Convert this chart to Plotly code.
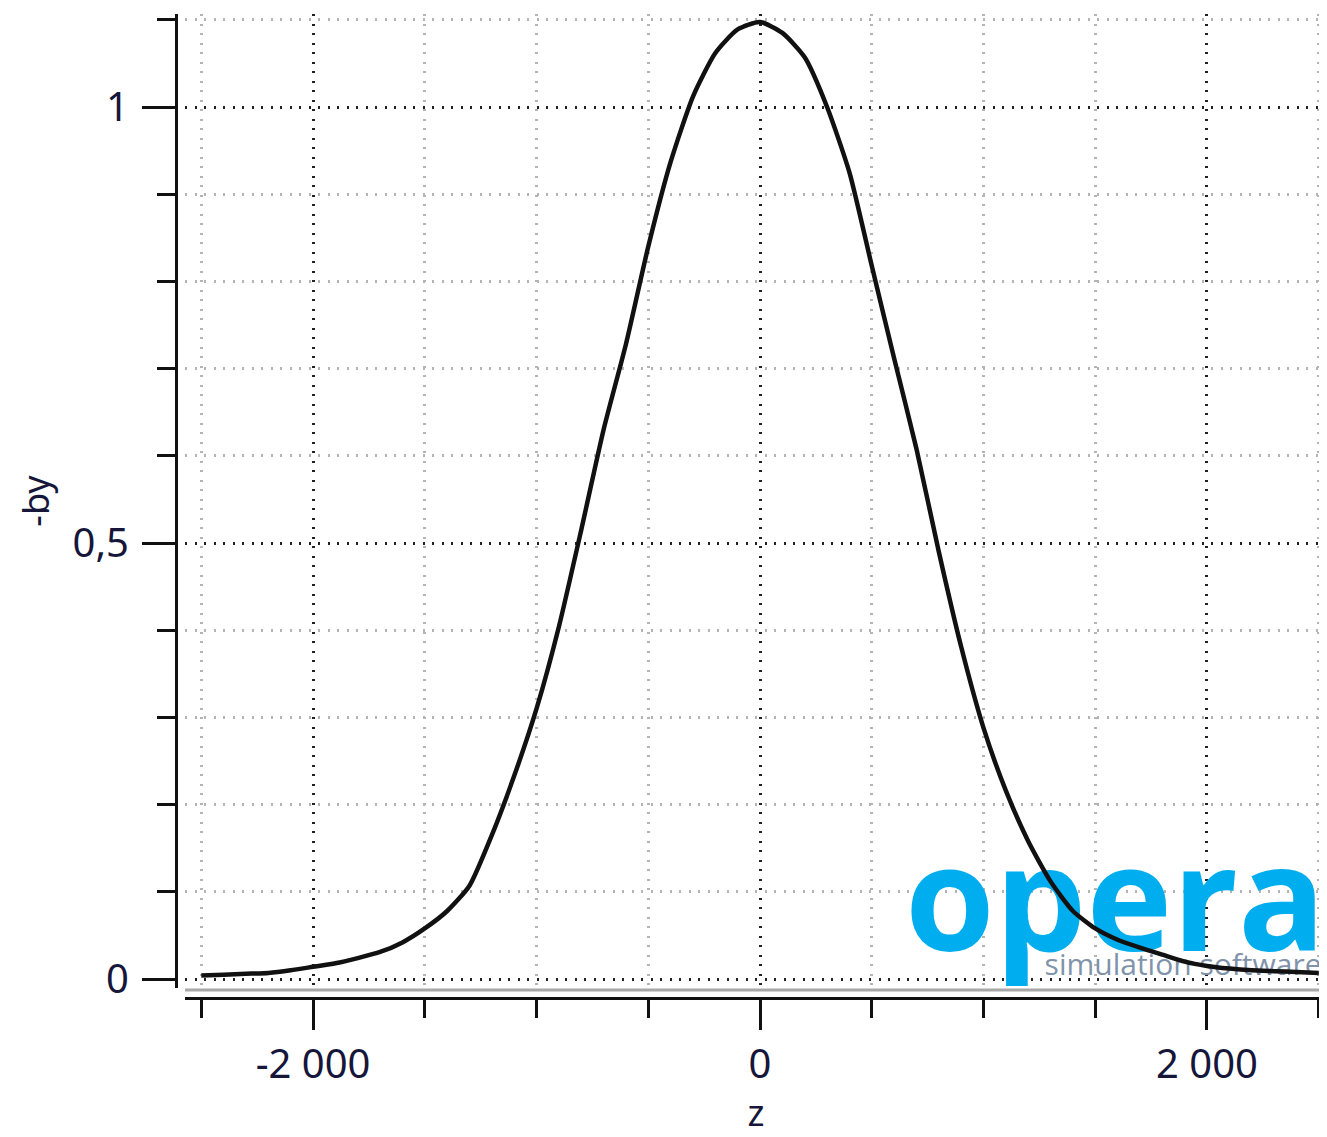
import plotly.graph_objects as go

# Data
z_vals = [-2500, -2400, -2300, -2200, -2100, -2000, -1900, -1800, -1700, -1600,
          -1500, -1400, -1300, -1200, -1100, -1000, -900, -800, -700, -600,
          -500, -400, -300, -200, -100, 0, 100, 200, 300, 400,
          500, 600, 700, 800, 900, 1000, 1100, 1200, 1300, 1400,
          1500, 1600, 1700, 1800, 1900, 2000, 2100, 2200, 2300, 2400, 2500]
by_vals = [0.004, 0.005, 0.006, 0.007, 0.010, 0.014, 0.018, 0.024, 0.031, 0.042,
           0.058, 0.078, 0.107, 0.165, 0.233, 0.310, 0.404, 0.515, 0.630, 0.728,
           0.840, 0.937, 1.012, 1.062, 1.089, 1.0975, 1.085, 1.057, 1.000, 0.925,
           0.818, 0.712, 0.608, 0.490, 0.381, 0.288, 0.216, 0.158, 0.112, 0.078,
           0.058, 0.045, 0.036, 0.028, 0.020, 0.015, 0.012, 0.010, 0.009, 0.008, 0.007]

x_tickvals = [-2000, 0, 2000]
x_ticktext = ["-2 000", "0", "2 000"]
y_tickvals = [0, 0.5, 1]
y_ticktext = ["0", "0,5", "1"]

LOGO_TEXT = "opera"
LOGO_SUB = "simulation software"
LOGO_X = [1590]
LOGO_Y = [0.074]
SUB_X = [1893]
SUB_Y = [0.013]

FONT = "Noto Sans"
LABEL_COLOR = "#16163a"

fig = go.Figure()

# Watermark logo (drawn below the curve, above the grid)
fig.add_trace(go.Scatter(
    x=LOGO_X, y=LOGO_Y, mode="text", text=["<b>" + LOGO_TEXT + "</b>"],
    textposition="middle center", cliponaxis=False, hoverinfo="skip",
    textfont=dict(family="Open Sans", size=145, color="#00aeef"), showlegend=False))
fig.add_trace(go.Scatter(
    x=SUB_X, y=SUB_Y, mode="text", text=[LOGO_SUB],
    textposition="middle center", cliponaxis=False, hoverinfo="skip",
    textfont=dict(family="Open Sans", size=30, color="#7f93aa"), showlegend=False))

fig.add_trace(go.Scatter(
    x=z_vals, y=by_vals, mode="lines",
    line=dict(color="#111111", width=4.5, shape="spline", smoothing=0.6),
    showlegend=False, hoverinfo="skip"))

# The page body has an 8px default margin; size the figure to fit the window
W, H = 1319, 1129
ML, MR, MT, MB = 168, 0, 6, 139
pw, ph = W - ML - MR, H - MT - MB
x_dom0 = 9 / pw
y_dom0 = 10 / ph

fig.update_layout(
    width=W, height=H,
    margin=dict(l=ML, r=MR, t=MT, b=MB),
    paper_bgcolor="white", plot_bgcolor="white",
    font=dict(family=FONT, color=LABEL_COLOR),
    xaxis=dict(
        domain=[x_dom0, 1], anchor="free", position=0,
        range=[-2573, 2537],
        tickmode="array", tickvals=x_tickvals, ticktext=x_ticktext,
        ticks="outside", ticklen=30, tickwidth=3, tickcolor="#111111",
        showline=True, linecolor="#111111", linewidth=3,
        showgrid=True, gridcolor="#222222", gridwidth=2.5, griddash="2px,7.5px",
        zeroline=False,
        tickfont=dict(size=40, color=LABEL_COLOR, family=FONT),
        title=dict(text="z", font=dict(size=36, color=LABEL_COLOR, family=FONT), standoff=8),
        minor=dict(dtick=500, tick0=0, ticks="outside", ticklen=18, tickwidth=3, tickcolor="#111111",
                   showgrid=True, gridcolor="#b4b4b4", gridwidth=2.5, griddash="2px,7.5px"),
    ),
    yaxis=dict(
        domain=[y_dom0, 1], anchor="free", position=0,
        range=[-0.0103, 1.1067],
        tickmode="array", tickvals=y_tickvals, ticktext=y_ticktext,
        ticks="outside", ticklen=33, tickwidth=3, tickcolor="#111111",
        ticklabelstandoff=5,
        showline=True, linecolor="#111111", linewidth=3,
        showgrid=True, gridcolor="#222222", gridwidth=2.5, griddash="2px,7.5px",
        zeroline=False,
        tickfont=dict(size=40, color=LABEL_COLOR, family=FONT),
        title=dict(text="-by", font=dict(size=36, color=LABEL_COLOR, family=FONT), standoff=10),
        minor=dict(dtick=0.1, tick0=0, ticks="outside", ticklen=18, tickwidth=3, tickcolor="#111111",
                   showgrid=True, gridcolor="#b4b4b4", gridwidth=2.5, griddash="2px,7.5px"),
    ),
    shapes=[dict(type="line", xref="paper", yref="paper", x0=x_dom0, x1=1, y0=y_dom0 - 0.002, y1=y_dom0 - 0.002,
                 line=dict(color="#a8a8a8", width=3), layer="above")],
)

fig.write_html("out.html")
